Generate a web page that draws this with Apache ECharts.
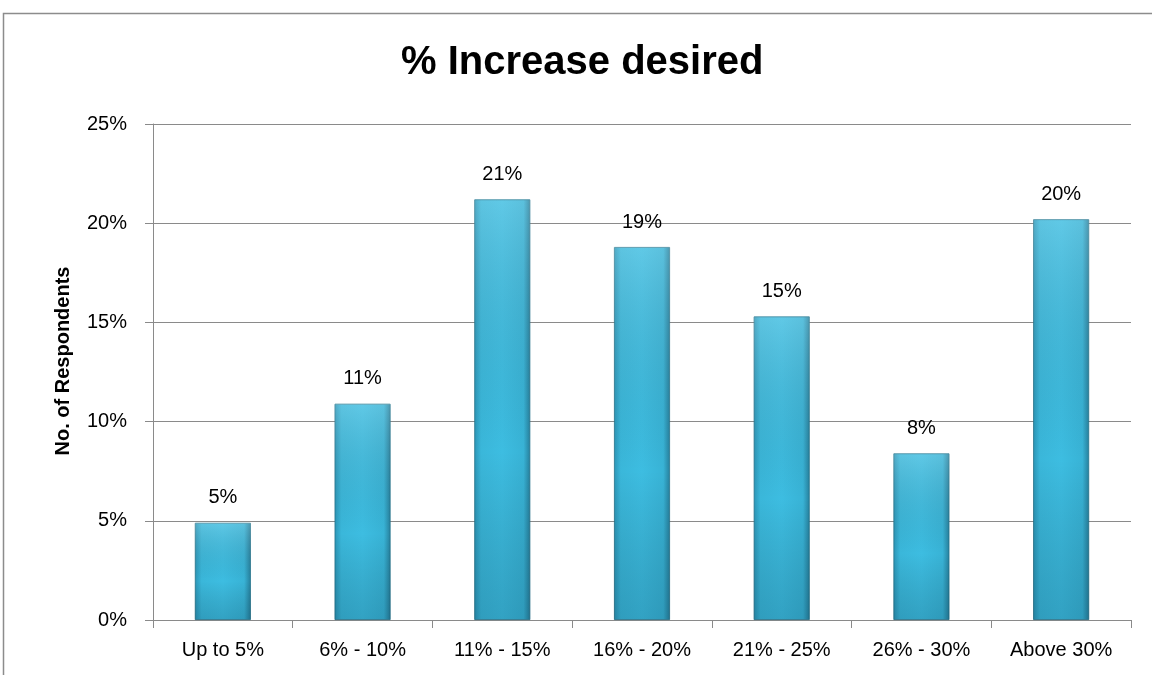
<!DOCTYPE html>
<html>
<head>
<meta charset="utf-8">
<script src="https://cdn.jsdelivr.net/npm/echarts@6/dist/echarts.min.js"></script>
<style>
html,body{margin:0;padding:0;background:#fff;}
#chart{width:1152px;height:675px;}
</style>
</head>
<body>
<div id="chart"></div>
<script>
var categories = ['Up to 5%', '6% - 10%', '11% - 15%', '16% - 20%', '21% - 25%', '26% - 30%', 'Above 30%'];
var respondentsPct = [4.9, 10.9, 21.2, 18.8, 15.3, 8.4, 20.2];
var yTicks = [0, 5, 10, 15, 20, 25];
var chartTitle = '% Increase desired';
var yAxisTitle = 'No. of Respondents';

var chart = echarts.init(document.getElementById('chart'), null, {renderer: 'canvas'});
var font = '"Liberation Sans", Arial, sans-serif';
var option = {
  backgroundColor: '#ffffff',
  animation: false,
  graphic: [{
    type: 'rect',
    shape: {x: 3.5, y: 13.5, width: 1200, height: 720},
    style: {fill: 'none', stroke: '#8c8c8c', lineWidth: 1.5},
    silent: true
  }],
  title: {
    text: chartTitle,
    left: 401,
    top: 43,
    padding: 0,
    textStyle: {fontFamily: font, fontWeight: 'bold', fontSize: 40, color: '#000'}
  },
  grid: {left: 153, right: 21, top: 124, bottom: 55, containLabel: false},
  xAxis: {
    type: 'category',
    data: categories,
    axisLine: {lineStyle: {color: '#8a8a8a', width: 1}},
    axisTick: {show: true, alignWithLabel: false, length: 8, lineStyle: {color: '#8a8a8a'}},
    axisLabel: {color: '#000', fontFamily: font, fontSize: 20, margin: 20, interval: 0}
  },
  yAxis: {
    type: 'value',
    min: yTicks[0],
    max: yTicks[yTicks.length - 1],
    interval: 5,
    name: yAxisTitle,
    nameLocation: 'middle',
    nameGap: 80,
    nameTextStyle: {fontFamily: font, fontWeight: 'bold', fontSize: 20, color: '#000', padding: [0, 0, 0, 22]},
    axisLine: {show: true, lineStyle: {color: '#8a8a8a', width: 1}},
    axisTick: {show: true, length: 8, inside: false, lineStyle: {color: '#8a8a8a'}},
    axisLabel: {color: '#000', fontFamily: font, fontSize: 20, margin: 26, formatter: function (v) { return v + '%'; }},
    splitLine: {show: true, lineStyle: {color: '#8a8a8a', width: 1}}
  },
  series: [{
    type: 'bar',
    data: respondentsPct,
    barWidth: 56,
    itemStyle: {
      color: new echarts.graphic.LinearGradient(0, 0, 1, 0, [
        {offset: 0, color: '#2b95b6'},
        {offset: 0.12, color: '#3ab7da'},
        {offset: 0.5, color: '#3dbde1'},
        {offset: 0.88, color: '#38b3d6'},
        {offset: 1, color: '#267f9c'}
      ]),
      borderColor: '#24738c',
      borderWidth: 0.8
    },
    label: {
      show: true,
      position: 'top',
      distance: 15,
      color: '#000',
      fontFamily: font,
      fontSize: 20,
      formatter: function (p) { return Math.round(p.value) + '%'; }
    }
  }, {
    type: 'bar',
    data: respondentsPct,
    barWidth: 56,
    barGap: '-100%',
    silent: true,
    itemStyle: {
      color: new echarts.graphic.LinearGradient(0, 0, 0, 1, [
        {offset: 0, color: 'rgba(255,255,255,0.18)'},
        {offset: 0.6, color: 'rgba(0,0,0,0.0)'},
        {offset: 1, color: 'rgba(0,40,60,0.18)'}
      ])
    }
  }]
};
chart.setOption(option);
</script>
</body>
</html>
